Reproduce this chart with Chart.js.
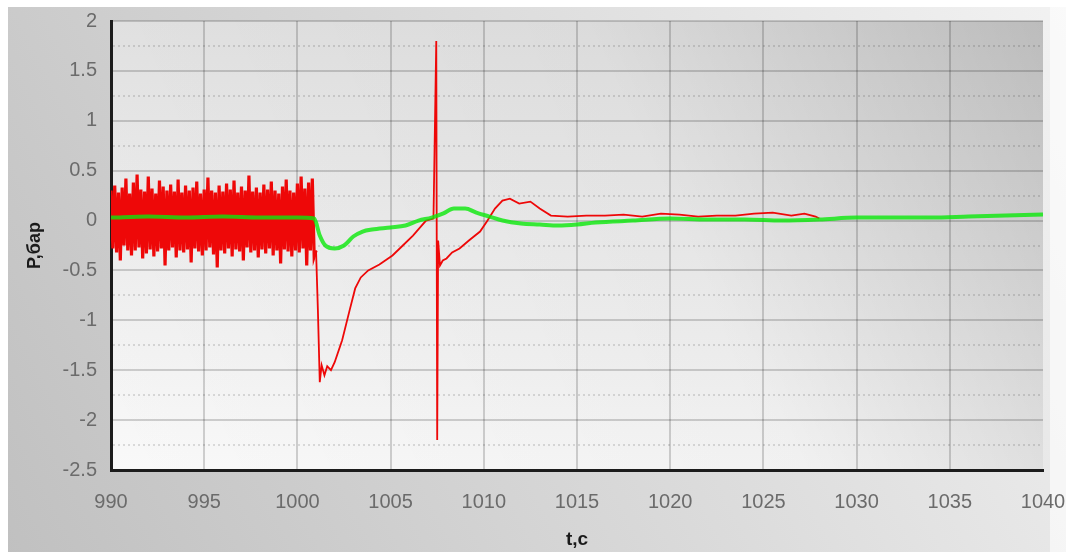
<!DOCTYPE html>
<html>
<head>
<meta charset="utf-8">
<title>P,бар</title>
<script src="https://cdn.jsdelivr.net/npm/chart.js@4.4.1/dist/chart.umd.min.js"></script>
<style>
  html, body { margin: 0; padding: 0; background: #fff; }
</style>
</head>
<body>
<canvas id="pressureChart" width="1066" height="552"></canvas>
<script>
// x / y axis ticks
var xTicks = [990, 995, 1000, 1005, 1010, 1015, 1020, 1025, 1030, 1035, 1040];
var yTicks = [-2.5, -2, -1.5, -1, -0.5, 0, 0.5, 1, 1.5, 2];

// red signal: noisy part before the event
var noiseT = [
  990, 990.1, 990.2, 990.3, 990.4, 990.5, 990.6, 990.7, 990.8, 990.9,
  991, 991.1, 991.2, 991.3, 991.4, 991.5, 991.6, 991.7, 991.8, 991.9,
  992, 992.1, 992.2, 992.3, 992.4, 992.5, 992.6, 992.7, 992.8, 992.9,
  993, 993.1, 993.2, 993.3, 993.4, 993.5, 993.6, 993.7, 993.8, 993.9,
  994, 994.1, 994.2, 994.3, 994.4, 994.5, 994.6, 994.7, 994.8, 994.9,
  995, 995.1, 995.2, 995.3, 995.4, 995.5, 995.6, 995.7, 995.8, 995.9,
  996, 996.1, 996.2, 996.3, 996.4, 996.5, 996.6, 996.7, 996.8, 996.9,
  997, 997.1, 997.2, 997.3, 997.4, 997.5, 997.6, 997.7, 997.8, 997.9,
  998, 998.1, 998.2, 998.3, 998.4, 998.5, 998.6, 998.7, 998.8, 998.9,
  999, 999.1, 999.2, 999.3, 999.4, 999.5, 999.6, 999.7, 999.8, 999.9,
  1000, 1000.1, 1000.2, 1000.3, 1000.4, 1000.5, 1000.6, 1000.7, 1000.8, 1000.9,
  1001
];
var noiseP = [
  0.3, -0.28, 0.35, -0.32, 0.28, -0.4, 0.33, -0.25, 0.42, -0.3,
  0.27, -0.35, 0.38, -0.3, 0.46, -0.27, 0.31, -0.38, 0.29, -0.33,
  0.44, -0.29, 0.32, -0.36, 0.27, -0.31, 0.4, -0.28, 0.34, -0.45,
  0.3, -0.3, 0.36, -0.27, 0.29, -0.37, 0.41, -0.3, 0.28, -0.32,
  0.35, -0.29, 0.3, -0.42, 0.33, -0.28, 0.39, -0.31, 0.27, -0.35,
  0.31, -0.3, 0.43, -0.27, 0.3, -0.34, 0.28, -0.47, 0.35, -0.3,
  0.29, -0.33, 0.37, -0.28, 0.31, -0.36, 0.4, -0.29, 0.28, -0.31,
  0.34, -0.4, 0.3, -0.27, 0.45, -0.32, 0.29, -0.3, 0.33, -0.37,
  0.28, -0.29, 0.36, -0.33, 0.31, -0.28, 0.39, -0.35, 0.3, -0.3,
  0.27, -0.43, 0.34, -0.29, 0.41, -0.31, 0.3, -0.36, 0.28, -0.3,
  0.37, -0.32, 0.44, -0.28, 0.32, -0.45, 0.38, -0.3, 0.42, -0.36,
  -0.3
];

// red signal: dip, spike and settling
var eventT = [1001.1, 1001.2, 1001.3, 1001.45, 1001.6, 1001.8, 1002, 1002.4, 1002.8, 1003.1,
  1003.4, 1003.8, 1004.4, 1005.1, 1005.6, 1006.2, 1006.9, 1007.3, 1007.45, 1007.5,
  1007.55, 1007.65, 1007.8, 1008, 1008.3, 1008.7, 1009.2, 1009.8, 1010.2, 1010.6,
  1011, 1011.4, 1011.9, 1012.5, 1013, 1013.6, 1014.5, 1015.5, 1016.5, 1017.5,
  1018.5, 1019.5, 1020.5, 1021.5, 1022.5, 1023.5, 1024.5, 1025.5, 1026.5, 1027.2,
  1027.8, 1028];
var eventP = [-0.9, -1.62, -1.45, -1.55, -1.46, -1.5, -1.42, -1.2, -0.9, -0.68,
  -0.57, -0.5, -0.44, -0.35, -0.26, -0.15, 0, 0.02, 1.8, -2.2,
  -0.2, -0.45, -0.4, -0.38, -0.32, -0.28, -0.2, -0.11, 0, 0.12,
  0.2, 0.22, 0.17, 0.19, 0.12, 0.05, 0.04, 0.05, 0.05, 0.06,
  0.04, 0.07, 0.06, 0.04, 0.05, 0.05, 0.07, 0.08, 0.05, 0.07,
  0.04, 0.02];

// green signal
var greenT = [990, 992, 994, 996, 998, 1000, 1000.9, 1001.2, 1001.5, 1002,
  1002.5, 1003, 1003.5, 1004, 1005, 1005.8, 1006.5, 1007.2, 1007.8, 1008.4,
  1009, 1009.6, 1010.3, 1011, 1012, 1013, 1014, 1015, 1016, 1018,
  1020, 1022, 1024, 1026, 1028, 1030, 1032, 1034, 1036, 1038, 1040];
var greenP = [0.03, 0.04, 0.03, 0.04, 0.03, 0.03, 0.02, -0.15, -0.25, -0.28,
  -0.25, -0.16, -0.11, -0.09, -0.07, -0.05, 0, 0.03, 0.07, 0.12,
  0.12, 0.08, 0.04, 0, -0.03, -0.04, -0.05, -0.04, -0.02, 0,
  0.02, 0.01, 0.01, 0, 0.01, 0.03, 0.03, 0.03, 0.04, 0.05, 0.06];

function toPoints(ts, ps) {
  return ts.map(function (t, i) { return { x: t, y: ps[i] }; });
}

var redPoints = toPoints(noiseT.concat(eventT), noiseP.concat(eventP));
var greenPoints = toPoints(greenT, greenP);

// backgrounds and the dotted half-step lines
var backdrop = {
  id: 'backdrop',
  beforeDraw: function (chart) {
    var ctx = chart.ctx, a = chart.chartArea;
    var w = chart.width, h = chart.height;
    ctx.save();
    var g = ctx.createLinearGradient(0, h, w, 0);
    g.addColorStop(0, '#c0c0c0');
    g.addColorStop(1, '#f2f2f2');
    ctx.fillStyle = g;
    ctx.fillRect(0, 0, w, h);
    ctx.fillStyle = '#ffffff';
    ctx.fillRect(0, 0, w, 7);
    ctx.fillRect(0, 0, 8, h);
    ctx.fillStyle = 'rgba(255,255,255,0.6)';
    ctx.fillRect(1050, 0, w - 1050, h);

    g = ctx.createLinearGradient(0, a.top, 0, a.bottom);
    g.addColorStop(0, '#e2e2e2');
    g.addColorStop(1, '#f9f9f9');
    ctx.fillStyle = g;
    ctx.fillRect(a.left, a.top, a.right - a.left, a.bottom - a.top);
    g = ctx.createLinearGradient(a.left, a.bottom, a.right, a.top);
    g.addColorStop(0, 'rgba(0,0,0,0)');
    g.addColorStop(0.6, 'rgba(0,0,0,0.03)');
    g.addColorStop(1, 'rgba(0,0,0,0.17)');
    ctx.fillStyle = g;
    ctx.fillRect(a.left, a.top, a.right - a.left, a.bottom - a.top);
    ctx.restore();
  },
  beforeDatasetsDraw: function (chart) {
    var ctx = chart.ctx, a = chart.chartArea, ys = chart.scales.y;
    ctx.save();
    ctx.strokeStyle = 'rgba(0,0,0,0.12)';
    ctx.lineWidth = 2;
    ctx.setLineDash([2, 3]);
    for (var i = 0; i < yTicks.length - 1; i++) {
      var py = Math.round(ys.getPixelForValue((yTicks[i] + yTicks[i + 1]) / 2));
      ctx.beginPath();
      ctx.moveTo(a.left + 2, py);
      ctx.lineTo(a.right, py);
      ctx.stroke();
    }
    ctx.restore();
  }
};

var tickFont = { family: 'Liberation Sans', size: 20 };
var noiseEnd = noiseT.length - 1;

var ctx = document.getElementById('pressureChart').getContext('2d');
var pressureChart = new Chart(ctx, {
  type: 'line',
  data: {
    datasets: [
      {
        label: 'green',
        data: greenPoints,
        borderColor: 'rgba(10,232,10,0.8)',
        borderWidth: 4,
        cubicInterpolationMode: 'monotone',
        pointRadius: 0,
        order: 0
      },
      {
        label: 'red',
        data: redPoints,
        borderColor: '#ee0808',
        borderWidth: 1.8,
        tension: 0,
        pointRadius: 0,
        order: 1,
        segment: {
          borderWidth: function (c) { return c.p1DataIndex <= noiseEnd ? 3.2 : undefined; }
        }
      }
    ]
  },
  options: {
    responsive: false,
    animation: false,
    layout: { padding: { left: 0, top: 21, right: 23, bottom: 0 } },
    plugins: {
      legend: { display: false },
      tooltip: { enabled: false }
    },
    scales: {
      x: {
        type: 'linear',
        min: xTicks[0],
        max: xTicks[xTicks.length - 1],
        afterBuildTicks: function (s) { s.ticks = xTicks.map(function (v) { return { value: v }; }); },
        ticks: {
          autoSkip: false, maxRotation: 0, padding: 20, color: '#6b6b6b', font: tickFont,
          callback: function (v) { return String(v); }
        },
        grid: {
          drawTicks: false,
          lineWidth: 2,
          color: function (c) { return c.tick && c.tick.value === 1040 ? 'rgba(0,0,0,0)' : 'rgba(0,0,0,0.17)'; }
        },
        border: { display: true, color: '#1c1c1c', width: 3 },
        title: {
          display: true, text: 't,c', color: '#1a1a1a',
          font: { family: 'Liberation Sans', size: 19, weight: 'bold' },
          padding: { top: 0, bottom: 1 }
        },
        afterFit: function (s) { s.height = 82; s.paddingLeft = 0; s.paddingRight = 0; }
      },
      y: {
        type: 'linear',
        min: yTicks[0],
        max: yTicks[yTicks.length - 1],
        afterBuildTicks: function (s) { s.ticks = yTicks.map(function (v) { return { value: v }; }); },
        ticks: {
          autoSkip: false, padding: 14, color: '#6b6b6b', font: tickFont,
          callback: function (v) { return String(v); }
        },
        grid: { drawTicks: false, lineWidth: 2, color: 'rgba(0,0,0,0.17)' },
        border: { display: true, color: '#1c1c1c', width: 3 },
        title: {
          display: true, text: 'P,бар', color: '#1a1a1a',
          font: { family: 'Liberation Sans', size: 18, weight: 'bold' },
          padding: { top: 24, bottom: 0 }
        },
        afterFit: function (s) { s.width = 111; s.paddingTop = 0; s.paddingBottom = 0; }
      }
    }
  },
  plugins: [backdrop]
});
</script>
</body>
</html>
